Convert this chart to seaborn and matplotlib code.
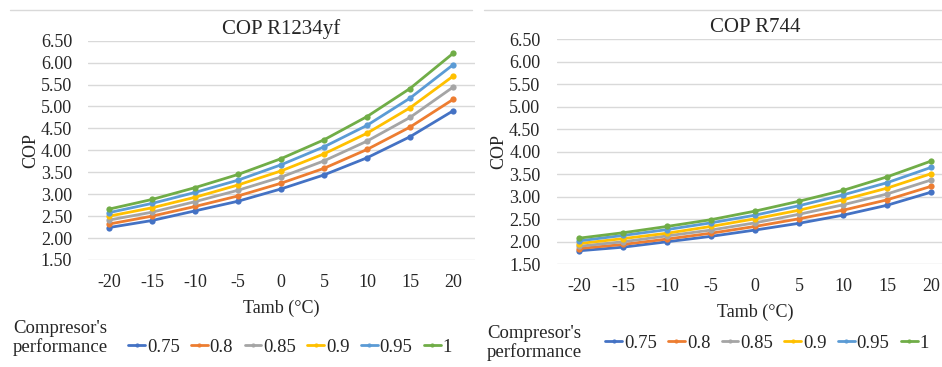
import numpy as np
import pandas as pd
import matplotlib
matplotlib.use('Agg')
import matplotlib.pyplot as plt
from matplotlib.lines import Line2D
import seaborn as sns

tamb = [-20, -15, -10, -5, 0, 5, 10, 15, 20]
perf = ['0.75', '0.8', '0.85', '0.9', '0.95', '1']
colors = ['#4472C4', '#ED7D31', '#A5A5A5', '#FFC000', '#5B9BD5', '#70AD47']

cop_r1234yf_075 = [2.24, 2.40, 2.62, 2.84, 3.12, 3.44, 3.83, 4.31, 4.90]
cop_r1234yf_080 = [2.32, 2.50, 2.72, 2.96, 3.25, 3.59, 4.02, 4.53, 5.16]
cop_r1234yf_085 = [2.41, 2.59, 2.83, 3.09, 3.39, 3.76, 4.21, 4.75, 5.44]
cop_r1234yf_090 = [2.50, 2.69, 2.93, 3.21, 3.53, 3.92, 4.39, 4.97, 5.69]
cop_r1234yf_095 = [2.58, 2.79, 3.04, 3.32, 3.67, 4.08, 4.57, 5.19, 5.95]
cop_r1234yf_100 = [2.66, 2.88, 3.15, 3.45, 3.81, 4.24, 4.77, 5.41, 6.21]

cop_r744_075 = [1.80, 1.88, 2.00, 2.12, 2.26, 2.41, 2.59, 2.81, 3.10]
cop_r744_080 = [1.85, 1.94, 2.06, 2.19, 2.34, 2.51, 2.70, 2.93, 3.23]
cop_r744_085 = [1.90, 2.00, 2.13, 2.26, 2.42, 2.61, 2.82, 3.06, 3.37]
cop_r744_090 = [1.96, 2.07, 2.19, 2.34, 2.51, 2.70, 2.93, 3.19, 3.51]
cop_r744_095 = [2.02, 2.14, 2.27, 2.42, 2.59, 2.80, 3.04, 3.31, 3.65]
cop_r744_100 = [2.08, 2.20, 2.34, 2.49, 2.68, 2.90, 3.14, 3.44, 3.79]

yticks = [1.5, 2.0, 2.5, 3.0, 3.5, 4.0, 4.5, 5.0, 5.5, 6.0, 6.5]


def long_df(series):
    rows = []
    for p, vals in zip(perf, series):
        for t, v in zip(tamb, vals):
            rows.append({'Tamb': t, 'COP': v, 'perf': p})
    return pd.DataFrame(rows)


df_yf = long_df([cop_r1234yf_075, cop_r1234yf_080, cop_r1234yf_085,
                 cop_r1234yf_090, cop_r1234yf_095, cop_r1234yf_100])
df_744 = long_df([cop_r744_075, cop_r744_080, cop_r744_085,
                  cop_r744_090, cop_r744_095, cop_r744_100])

sns.set_style('white')
plt.rcParams['font.family'] = 'serif'
plt.rcParams['font.serif'] = ['Liberation Serif', 'DejaVu Serif']

fig = plt.figure(figsize=(9.42, 3.67), dpi=100)
ax1 = fig.add_axes([87.5 / 942, 1 - 260 / 367, 387 / 942, 219.3 / 367])
ax2 = fig.add_axes([557 / 942, 1 - 264.3 / 367, 396 / 942, 225.3 / 367])

palette = dict(zip(perf, colors))

for ax, df, title, ypad in [(ax1, df_yf, 'COP R1234yf', 11),
                            (ax2, df_744, 'COP R744', 12)]:
    sns.lineplot(data=df, x='Tamb', y='COP', hue='perf', hue_order=perf,
                 palette=palette, marker='o', markersize=4.5, markeredgewidth=0,
                 linewidth=2, ax=ax, legend=False)
    ax.set_xlim(-22.5, 22.5)
    ax.set_ylim(1.5, 6.5)
    ax.set_xticks(tamb)
    ax.set_xticklabels([str(t) for t in tamb])
    ax.set_yticks(yticks)
    ax.set_yticklabels([f'{v:.2f}' for v in yticks])
    ax.tick_params(labelsize=13, length=0)
    ax.tick_params(axis='y', pad=ypad)
    ax.tick_params(axis='x', pad=10)
    ax.grid(axis='y', color='#D9D9D9', linewidth=1)
    ax.grid(axis='x', visible=False)
    for s in ax.spines.values():
        s.set_visible(False)
    ax.set_axisbelow(True)
    ax.set_title(title, fontsize=15, pad=5)
    ax.set_xlabel('Tamb (°C)', fontsize=13, labelpad=6)
    ax.set_ylabel('COP', fontsize=13, labelpad=1)

# chart area top borders
fig.add_artist(Line2D([10 / 942, 472 / 942], [1 - 10 / 367] * 2,
                      color='#D9D9D9', linewidth=1))
fig.add_artist(Line2D([484 / 942, 1.0], [1 - 10 / 367] * 2,
                      color='#D9D9D9', linewidth=1))

handles = [Line2D([], [], color=c, linewidth=2, marker='o', markersize=3,
                  markeredgewidth=0) for c in colors]

fig.text(60 / 942, 1 - 338 / 367, "Compresor's\nperformance", fontsize=13.5,
         ha='center', va='center', linespacing=1.1)
fig.legend(handles, perf, loc='center', bbox_to_anchor=(290 / 942, 1 - 347 / 367),
           ncol=6, frameon=False, fontsize=13.5, handlelength=0.9,
           handletextpad=0.1, columnspacing=0.6, borderpad=0)

fig.text(534 / 942, 1 - 343 / 367, "Compresor's\nperformance", fontsize=13.5,
         ha='center', va='center', linespacing=1.1)
fig.legend(handles, perf, loc='center', bbox_to_anchor=(767 / 942, 1 - 343 / 367),
           ncol=6, frameon=False, fontsize=13.5, handlelength=0.9,
           handletextpad=0.1, columnspacing=0.6, borderpad=0)

fig.savefig('out.png', dpi=100)
